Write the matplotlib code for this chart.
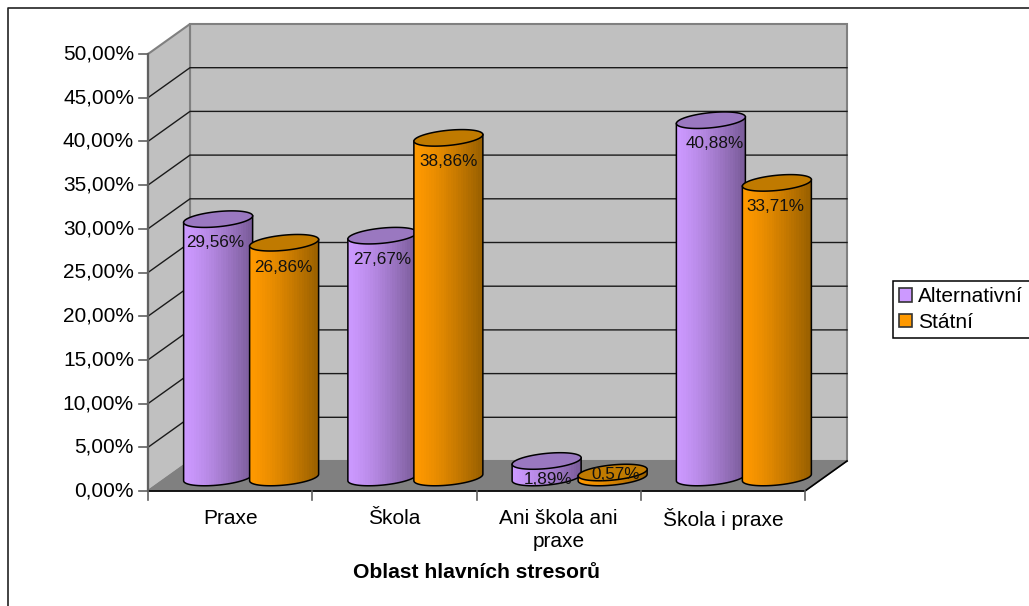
import numpy as np
import matplotlib
matplotlib.use('Agg')
import matplotlib.pyplot as plt
from matplotlib.patches import Polygon, Patch

plt.rcParams['font.family'] = ['Liberation Sans', 'DejaVu Sans']

# Data
categories = ['Praxe', 'Škola', 'Ani škola ani\npraxe', 'Škola i praxe']
alternativni = [29.56, 27.67, 1.89, 40.88]
statni = [26.86, 38.86, 0.57, 33.71]
y_ticks = [0, 5, 10, 15, 20, 25, 30, 35, 40, 45, 50]
axis_title = 'Oblast hlavních stresorů'

# Layout (pixels per data unit, oblique depth of the 3D box)
W, H = 1029, 606
X0, Y0 = 148, 491      # front-left floor corner
CAT_PX = 164.25
VAL_PX = 8.74
DEPTH_X = 42 / CAT_PX
DEPTH_Y = 30 / VAL_PX

# Cylinder shape, in pixels
CYL_A = 34.5
CYL_B = 7.6
CYL_K = 0.095
CYL_OFFSET = 33 / CAT_PX
CYL_BASE = 13.5 / VAL_PX

PURPLE = ('#CC99FF', '#7A5C99', '#9A78C0')
ORANGE = ('#FF9900', '#996000', '#C07A00')


def ellipse_pts(t):
    """Sheared ellipse offsets, converted to axis units."""
    ex = CYL_A * np.cos(t)
    ey = -CYL_B * np.sin(t) + CYL_K * ex
    return ex / CAT_PX, ey / VAL_PX


def cylinder(ax, xc, val, colors, z):
    top = CYL_BASE + val
    # body: front half of the base plus straight sides
    dx, dy = ellipse_pts(np.linspace(np.pi, 0, 60))
    ex, ey = ellipse_pts(np.array([0.0, np.pi]))
    px = np.r_[xc + dx, xc + ex[0], xc + ex[1]]
    py = np.r_[CYL_BASE + dy, top + ey[0], top + ey[1]]
    body = Polygon(np.c_[px, py], closed=True, fc='none', ec='black', lw=1.1, zorder=z + 0.2)
    ax.add_patch(body)
    # banded left-to-right shading
    c0 = np.array(matplotlib.colors.to_rgb(colors[0]))
    c1 = np.array(matplotlib.colors.to_rgb(colors[1]))
    f = np.linspace(0, 1, 28) ** 1.3
    grad = (c0[None, :] * (1 - f[:, None]) + c1[None, :] * f[:, None])[None, :, :]
    im = ax.imshow(grad, extent=[px.min(), px.max(), py.min(), py.max()],
                   aspect='auto', interpolation='nearest', zorder=z)
    clip = Polygon(np.c_[px, py], closed=True, transform=ax.transData)
    im.set_clip_path(clip)
    # top cap
    dx, dy = ellipse_pts(np.linspace(0, 2 * np.pi, 120))
    ax.add_patch(Polygon(np.c_[xc + dx, top + dy], closed=True, fc=colors[2],
                         ec='black', lw=1.1, zorder=z + 0.3))
    return top


fig = plt.figure(figsize=(W / 100, H / 100), dpi=100)
ax = fig.add_axes([0, 0, 1, 1])
xlim = (-X0 / CAT_PX, (W - X0) / CAT_PX)
ylim = ((Y0 - H) / VAL_PX, Y0 / VAL_PX)
ax.axis('off')

n = len(categories)
# Chart frame
ax.plot([xlim[1], 8 / CAT_PX - X0 / CAT_PX, 8 / CAT_PX - X0 / CAT_PX],
        [(Y0 - 8) / VAL_PX, (Y0 - 8) / VAL_PX, ylim[0]], color='#222222', lw=1.2, zorder=1)

# Walls and floor
ax.add_patch(Polygon([(DEPTH_X, DEPTH_Y), (n + DEPTH_X, DEPTH_Y), (n + DEPTH_X, 50 + DEPTH_Y),
                      (DEPTH_X, 50 + DEPTH_Y)], fc='#C0C0C0', ec='#808080', lw=1.5, zorder=2))
ax.add_patch(Polygon([(0, 0), (DEPTH_X, DEPTH_Y), (DEPTH_X, 50 + DEPTH_Y), (0, 50)],
                     fc='#C0C0C0', ec='#808080', lw=1.5, zorder=2))
ax.add_patch(Polygon([(0, 0), (n, 0), (n + DEPTH_X, DEPTH_Y), (DEPTH_X, DEPTH_Y)],
                     fc='#808080', ec='#808080', lw=1, zorder=2))

# Gridlines on the back and side walls
for v in y_ticks[1:-1]:
    ax.plot([0, DEPTH_X, n + DEPTH_X], [v, v + DEPTH_Y, v + DEPTH_Y], color='#1a1a1a', lw=1.0, zorder=3)

# Axes
ax.plot([0, 0], [0, 50], color='#606060', lw=1.6, zorder=4)
ax.plot([0, n, n + DEPTH_X], [0, 0, DEPTH_Y], color='black', lw=1.2, zorder=4)
for v in y_ticks:
    ax.plot([-9 / CAT_PX, 0], [v, v], color='#606060', lw=1.2, zorder=4)
    ax.text(-14 / CAT_PX, v, f'{v:.2f}%'.replace('.', ','), ha='right', va='center',
            fontsize=15, color='black', zorder=5)
for i in range(n + 1):
    ax.plot([i, i], [0, -9 / VAL_PX], color='#606060', lw=1.2, zorder=4)

# Category labels and axis title
for i, name in enumerate(categories):
    ax.text(i + 0.5, -17.5 / VAL_PX, name, ha='center', va='top', fontsize=15,
            linespacing=1.3, zorder=5)
ax.text(2, -81 / VAL_PX, axis_title, ha='center', va='center', fontsize=15.2,
        fontweight='bold', zorder=5)

# Cylinders; the low ones carry their label closer to the cap
label_drop = [[23.5, 23.5, 18.5, 23.5], [24.5, 23.5, 1.5, 23.5]]
label_shift = [[-3, 0, 1, 4], [-1, 0, 3, -1]]
for s, (vals, cols) in enumerate(zip((alternativni, statni), (PURPLE, ORANGE))):
    sign = -1 if s == 0 else 1
    for i, v in enumerate(vals):
        xc = i + 0.5 + DEPTH_X / 2 + sign * CYL_OFFSET
        z = 10 + i * 2 + s
        top = cylinder(ax, xc, v, cols, z)
        ax.text(xc + label_shift[s][i] / CAT_PX, top - label_drop[s][i] / VAL_PX,
                f'{v:.2f}%'.replace('.', ','), ha='center', va='center', fontsize=12.3,
                color='#111111', zorder=30)

ax.set_xlim(xlim)
ax.set_ylim(ylim)

# Legend runs off the right edge of the canvas
handles = [Patch(fc=PURPLE[0], ec='#333333', lw=1.2, label='Alternativní'),
           Patch(fc=ORANGE[0], ec='#333333', lw=1.2, label='Státní')]
leg = ax.legend(handles=handles, loc='upper left', bbox_to_anchor=(893 / W, 1 - 281 / H),
                bbox_transform=fig.transFigure, borderaxespad=0, fontsize=15, frameon=True,
                fancybox=False, framealpha=1, edgecolor='black', borderpad=0.3,
                handlelength=0.62, handleheight=0.62, handletextpad=0.3, labelspacing=0.32)
leg.get_frame().set_linewidth(1.1)
leg.set_zorder(40)

fig.savefig('out.png', dpi=100, facecolor='white')
plt.close(fig)
